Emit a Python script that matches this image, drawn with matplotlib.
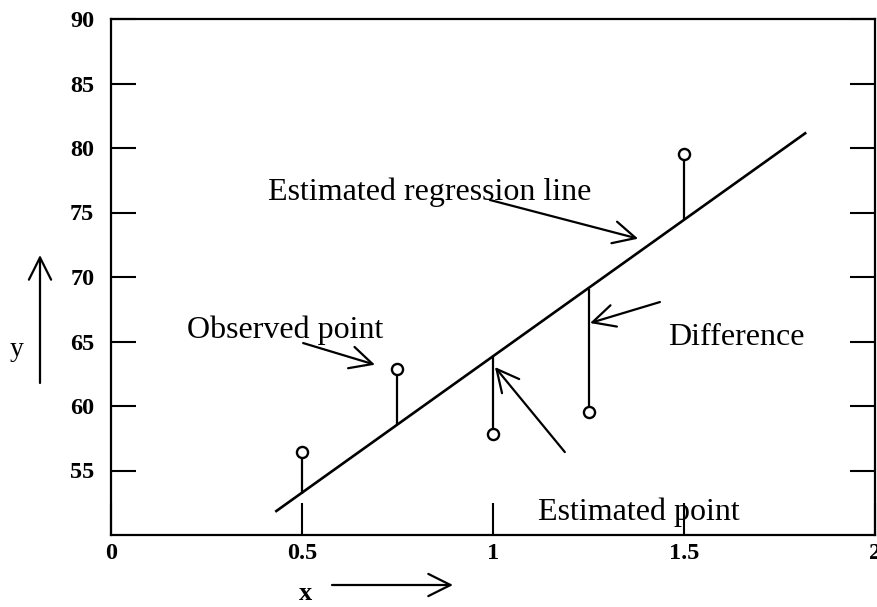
import matplotlib
matplotlib.use("Agg")
import matplotlib.pyplot as plt

# Observed sample values
obs_x = [0.5, 0.75, 1.0, 1.25, 1.5]
obs_y = [56.4, 62.9, 57.8, 59.5, 79.5]
# Values on the fitted line at the same x positions
fit_y = [53.2, 58.5, 63.8, 69.1, 74.4]
# End points of the estimated regression line
line_x = [0.43, 1.82]
line_y = [51.8, 81.2]

x_ticks = [0, 0.5, 1, 1.5, 2]
x_tick_labels = ["0", "0.5", "1", "1.5", "2"]
y_ticks = [55, 60, 65, 70, 75, 80, 85, 90]
y_tick_labels = ["55", "60", "65", "70", "75", "80", "85", "90"]

W, H = 878, 607
fig = plt.figure(figsize=(W / 100, H / 100), dpi=100)
ax = fig.add_axes([111 / W, (H - 535) / H, (875 - 111) / W, (535 - 19) / H])

serif = ["Liberation Serif", "DejaVu Serif"]

ax.set_xlim(0, 2)
ax.set_ylim(50, 90)

# Regression line
ax.plot(line_x, line_y, color="black", lw=1.9, solid_capstyle="butt")

# Vertical differences between observation and line
ax.vlines(obs_x, obs_y, fit_y, colors="black", lw=1.6)

# Observed points
ax.plot(obs_x, obs_y, linestyle="none", marker="o", ms=8,
        mfc="white", mec="black", mew=1.7, zorder=5)

# Axes frame and ticks
for s in ax.spines.values():
    s.set_linewidth(1.6)
ax.set_xticks(x_ticks)
ax.set_xticklabels(x_tick_labels)
ax.set_yticks(y_ticks)
ax.set_yticklabels(y_tick_labels)
ax.tick_params(axis="y", direction="in", length=18, width=1.5,
               left=True, right=True, pad=12, labelsize=17.5)
ax.tick_params(axis="x", direction="in", length=23, width=1.5,
               top=False, bottom=True, pad=6, labelsize=17.5)
for lab in ax.get_xticklabels() + ax.get_yticklabels():
    lab.set_fontfamily(serif)
    lab.set_fontweight("bold")

# Annotation texts
txt_kw = dict(fontsize=23, family=serif, color="black", va="baseline", ha="left")
ax.text(0.411, 75.97, "Estimated regression line", **txt_kw)
ax.text(0.199, 65.27, "Observed point", **txt_kw)
ax.text(1.458, 64.73, "Difference", **txt_kw)
ax.text(1.118, 51.16, "Estimated point", **txt_kw)

arrow_kw = dict(arrowstyle="->,head_length=0.8,head_width=0.4",
                color="black", lw=1.6, shrinkA=0, shrinkB=0, mutation_scale=20)

def pointer(tail, head):
    ax.annotate("", xy=head, xytext=tail, arrowprops=arrow_kw,
                annotation_clip=False)

pointer((0.992, 75.97), (1.380, 72.97))
pointer((0.503, 64.88), (0.691, 63.2))
pointer((1.437, 68.06), (1.254, 66.43))
pointer((1.188, 56.43), (1.005, 63.02))

# Axis captions with direction arrows, placed in figure pixels
fig.text(306 / W, (H - 594) / H, "x", fontsize=19, family=serif,
         fontweight="bold", ha="center", va="center")
ax.annotate("", xy=(453, H - 585), xytext=(332, H - 585),
            xycoords="figure pixels", textcoords="figure pixels",
            arrowprops=arrow_kw, annotation_clip=False)
fig.text(17 / W, (H - 350) / H, "y", fontsize=20, family=serif,
         ha="center", va="center")
ax.annotate("", xy=(40, H - 255), xytext=(40, H - 383),
            xycoords="figure pixels", textcoords="figure pixels",
            arrowprops=arrow_kw, annotation_clip=False)

fig.savefig("out.png", dpi=100)
